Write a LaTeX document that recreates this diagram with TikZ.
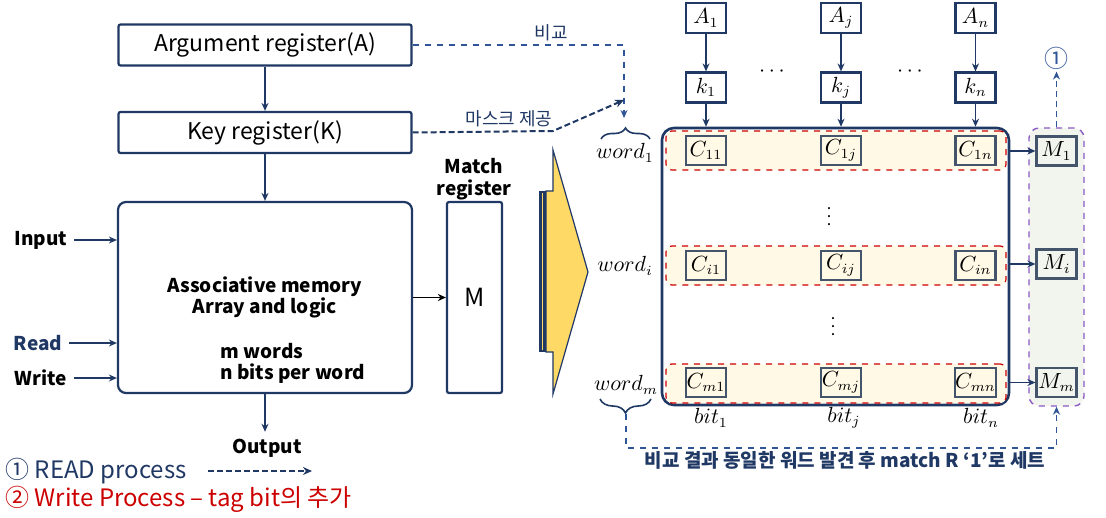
\documentclass[tikz,border=0pt]{standalone}
\usepackage{fontspec}
\setmainfont{Noto Sans CJK KR}
\usepackage{tikz}
\usetikzlibrary{arrows.meta, decorations.pathreplacing, calc}
\definecolor{navyLine}{RGB}{32,56,100}
\definecolor{dashBlue}{RGB}{47,85,151}
\definecolor{cellEdge}{RGB}{68,84,106}
\definecolor{rowFill}{RGB}{255,249,230}
\definecolor{rowRed}{RGB}{204,0,0}
\definecolor{matchFill}{RGB}{242,245,238}
\definecolor{matchEdge}{RGB}{140,90,195}
\definecolor{arrowGold}{RGB}{255,217,102}

\begin{document}
\begin{tikzpicture}[
    x=0.5pt, y=-0.5pt,
    font=\fontsize{11.5}{13}\selectfont,
    regbox/.style={rectangle, draw=navyLine, line width=1.1pt, rounded corners=1pt, inner sep=0pt},
    topbox/.style={rectangle, draw=navyLine, line width=1.1pt, fill=white, minimum width=20pt, minimum height=15pt, inner sep=0pt, font=\fontsize{10.5}{12}\selectfont},
    cellbox/.style={rectangle, draw=cellEdge, line width=1.1pt, minimum width=20pt, minimum height=14.5pt, inner sep=0pt, font=\fontsize{10.5}{12}\selectfont},
    rowbox/.style={rectangle, draw=rowRed, dashed, line width=0.6pt, rounded corners=3pt, fill=rowFill, minimum width=170pt, minimum height=19.5pt},
    sidelbl/.style={font=\bfseries\fontsize{9.5}{11}\selectfont},
    mathlbl/.style={font=\fontsize{10.5}{12}\selectfont, inner sep=1pt},
    arr/.style={-{Stealth[length=4pt, width=3.5pt]}, navyLine, line width=0.9pt},
    dsh/.style={-{Stealth[length=4pt, width=3.5pt]}, dashBlue, dashed, line width=0.6pt},
    dshk/.style={-{Stealth[length=4.5pt, width=4pt]}, navyLine, dash pattern=on 3pt off 1.5pt, line width=1pt},
    brc/.style={decorate, decoration={brace, amplitude=5.5pt}, navyLine, line width=0.8pt}
]
\useasboundingbox (0,0) rectangle (1106,518);

% registers and memory block
\node[regbox, minimum width=146.5pt, minimum height=20.5pt] (areg) at (265,45) {Argument register(A)};
\node[regbox, minimum width=146.5pt, minimum height=20.5pt] (kreg) at (265,132.5) {Key register(K)};
\node[regbox, rounded corners=4pt, minimum width=147pt, minimum height=95.5pt, align=center,
      font=\bfseries\fontsize{9.5}{10.5}\selectfont] (amem) at (265,297.5) {Associative memory\\Array and logic};
\node[anchor=west, align=left, inner sep=0pt, font=\bfseries\fontsize{9.5}{10.5}\selectfont] (mwords) at (220,363) {m words\\n bits per word};
\node[regbox, minimum width=27.5pt, minimum height=95.5pt, font=\fontsize{12.5}{14}\selectfont] (mreg) at (474.5,297.5) {M};
\node[align=center, font=\bfseries\fontsize{9.5}{11}\selectfont] (mname) at (474,179) {Match\\register};

\node[sidelbl] (inp) at (41,240) {Input};
\node[sidelbl, text=navyLine] (rd) at (38,343) {Read};
\node[sidelbl] (wr) at (41,378) {Write};
\node[sidelbl] (outp) at (267,448) {Output};

\draw[arr] (areg) -- (kreg);
\draw[arr] (kreg) -- (amem);
\draw[arr] (inp.east) -- (inp -| amem.west);
\draw[arr] (rd.east) -- (rd -| amem.west);
\draw[arr] (wr.east) -- (wr -| amem.west);
\draw[arr] (amem.south) -- (amem.south |- outp.north);
\draw[arr, black] (amem) -- (mreg);

% comparison / mask paths
\coordinate (w1in) at (624,118);
\coordinate (mbend) at (553,131);
\coordinate (mtip) at (624,100);
\draw[dsh] (areg.east) -| (w1in);
\draw[dshk] (kreg.east) -- (mbend) -- (mtip);
\node[text=navyLine, font=\fontsize{9}{10}\selectfont] (cmp) at (551,33) {비교};
\node[text=navyLine, font=\fontsize{9}{10}\selectfont] (mask) at (509,119) {마스크 제공};

% big arrow
\fill[navyLine] (539,191) rectangle (545.5,352);
\fill[arrowGold] (542,193) rectangle (543.3,350);
\draw[navyLine, line width=0.6pt, fill=arrowGold, line join=miter]
    (553,150) -- (588,272) -- (553,394) -- (553,352) -- (546,352) -- (546,191) -- (553,191) -- cycle;

% argument and key cells
\node[topbox] (a1) at (706,18) {$A_1$};
\node[topbox] (aj) at (841,18) {$A_j$};
\node[topbox] (an) at (975.5,18) {$A_n$};
\node[topbox] (k1) at (706,87.5) {$k_1$};
\node[topbox] (kj) at (841,87.5) {$k_j$};
\node[topbox] (kn) at (975.5,87.5) {$k_n$};
\node[mathlbl] (hd1) at (772,72) {$\cdots$};
\node[mathlbl] (hd2) at (910,72) {$\cdots$};

\node[rectangle, draw=navyLine, line width=1.3pt, rounded corners=6pt, minimum width=173.5pt, minimum height=138.5pt] (cmem) at (835.5,266.5) {};
\node[rowbox] (r1) at (836,150.5) {};
\node[rowbox] (ri) at (836,265.5) {};
\node[rowbox] (rm) at (836,383.5) {};

\node[cellbox] (c11) at (706,150.5) {$C_{11}$};
\node[cellbox] (c1j) at (841,150.5) {$C_{1j}$};
\node[cellbox] (c1n) at (975.5,150.5) {$C_{1n}$};
\node[cellbox] (ci1) at (706,265.5) {$C_{i1}$};
\node[cellbox] (cij) at (841,265.5) {$C_{ij}$};
\node[cellbox] (cin) at (975.5,265.5) {$C_{in}$};
\node[cellbox] (cm1) at (706,382.5) {$C_{m1}$};
\node[cellbox] (cmj) at (841,382.5) {$C_{mj}$};
\node[cellbox] (cmn) at (975.5,382.5) {$C_{mn}$};
\node[mathlbl, font=\fontsize{8}{9}\selectfont] (vd1) at (829,211) {$\vdots$};
\node[mathlbl, font=\fontsize{8}{9}\selectfont] (vd2) at (833,321) {$\vdots$};

\draw[arr] (a1) -- (k1);
\draw[arr] (aj) -- (kj);
\draw[arr] (an) -- (kn);
\draw[arr] (k1) -- (k1 |- cmem.north);
\draw[arr] (kj) -- (kj |- cmem.north);
\draw[arr] (kn) -- (kn |- cmem.north);

\node[mathlbl] (b1) at (711,418) {$bit_1$};
\node[mathlbl] (bj) at (844,418) {$bit_j$};
\node[mathlbl] (bn) at (981,418) {$bit_n$};

% word labels
\node[mathlbl] (w1) at (625,153) {$word_1$};
\node[mathlbl] (wi) at (625,266) {$word_i$};
\node[mathlbl] (wm) at (626,385) {$word_m$};
\draw[brc] (601,139) -- (650,139);
\draw[brc, decoration={amplitude=7pt}] (651,399) -- (600,399);
\coordinate (wmtip) at (626,414);

% match register column
\node[rectangle, draw=matchEdge, dashed, line width=0.7pt, rounded corners=5pt, fill=matchFill, minimum width=27.5pt, minimum height=139pt] (mcol) at (1056.5,267) {};
\node[cellbox, fill=matchFill] (m1) at (1056.5,151) {$M_1$};
\node[cellbox, fill=matchFill] (mi) at (1056.5,264) {$M_i$};
\node[cellbox, fill=matchFill] (mm) at (1056.5,382.5) {$M_m$};
\node[text=dashBlue, font=\fontsize{12}{14}\selectfont, inner sep=1pt] (st1) at (1056.5,58) {①};

\draw[arr] (cmem.east |- m1) -- (m1);
\draw[arr] (cmem.east |- mi) -- (mi);
\draw[arr] (cmem.east |- mm) -- (mm);
\draw[dsh, line width=0.9pt, dash pattern=on 3pt off 2pt] (mcol.north) -- (st1.south);
\draw[dsh] (wmtip) -- ++(0,34) -| (mcol.south);
\node[text=navyLine, font=\bfseries\fontsize{9.5}{11}\selectfont] (note) at (845,460) {비교 결과 동일한 워드 발견 후 match R ‘1’로 세트};

% legend
\node[anchor=west, text=navyLine, inner sep=0pt, font=\fontsize{12}{14}\selectfont] (leg1) at (5,471) {① READ process};
\node[anchor=west, text=rowRed, inner sep=0pt, font=\fontsize{12}{14}\selectfont] (leg2) at (5,499) {② Write Process – tag bit의 추가};
\coordinate (lga) at (208,471);
\coordinate (lgb) at (312,471);
\draw[dshk] (lga) -- (lgb);
\end{tikzpicture}
\end{document}
